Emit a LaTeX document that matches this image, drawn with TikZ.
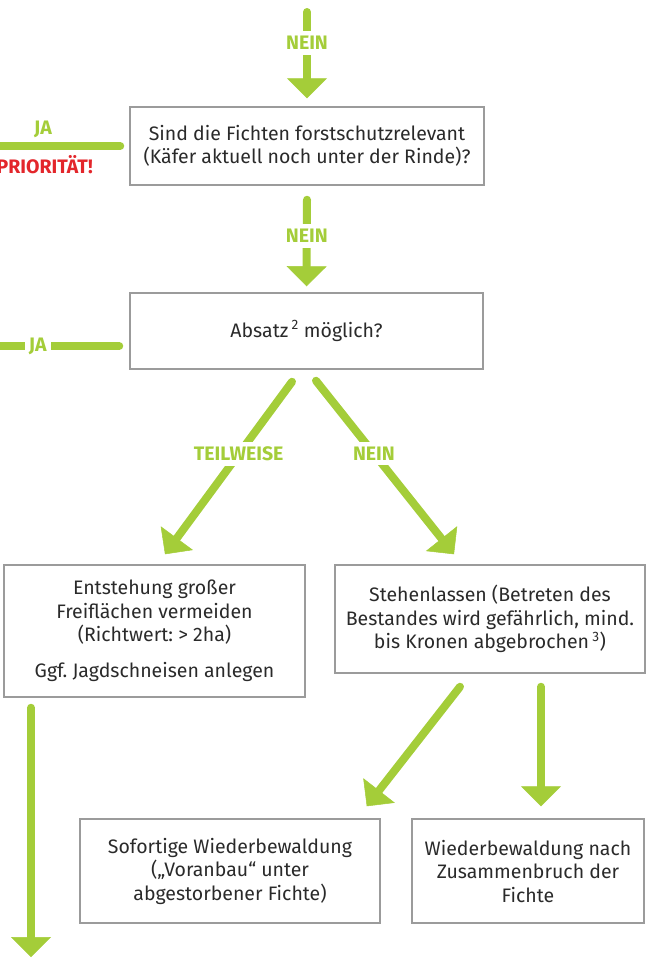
\documentclass[tikz,border=0pt]{standalone}
\usepackage{fontspec}
\setmainfont{Fira Sans}
\usetikzlibrary{arrows.meta,calc}
\definecolor{grn}{HTML}{A4CD39}
\definecolor{rd}{HTML}{E3262B}
\definecolor{txt}{HTML}{2A2A2A}
\definecolor{brd}{HTML}{9B9B9B}
\frenchspacing
\begin{document}
\begin{tikzpicture}[x=1pt,y=-1pt,
  box/.style={draw=brd, line width=1.5pt, align=center, text=txt,
    font=\fontsize{19.5}{23.5}\selectfont, inner sep=0pt},
  ln/.style={draw=grn, line width=8pt, line cap=round},
  arr/.style={ln, -{Triangle[length=20pt,width=40pt,line width=0.5pt]}},
  lab/.style={fill=white, text=grn, font=\bfseries\fontsize{19.5}{19.5}\selectfont,
    inner xsep=4pt, inner ysep=5pt},
  plainlab/.style={font=\bfseries\fontsize{19.5}{19.5}\selectfont, inner sep=0pt}
]
\useasboundingbox (0,0) rectangle (646,959);
\clip (0,0) rectangle (646,959);

% boxes
\node[box, minimum width=354pt, minimum height=78pt] (b1) at (307,146)
  {Sind die Fichten forstschutzrelevant\\(Käfer aktuell noch unter der Rinde)?};
\node[box, minimum width=353pt, minimum height=76pt] (b2) at (306.5,331)
  {Absatz\,\textsuperscript{2} möglich?};
\node[box, minimum width=301pt, minimum height=132pt] (b3) at (154.5,631)
  {Entstehung großer\\Freiflächen vermeiden\\(Richtwert: > 2ha)\\[12pt]Ggf. Jagdschneisen anlegen};
\node[box, minimum width=310pt, minimum height=108pt] (b4) at (490,619)
  {Stehenlassen (Betreten des\\Bestandes wird gefährlich, mind.\\bis Kronen abgebrochen\,\textsuperscript{3})};
\node[box, minimum width=300pt, minimum height=104pt] (b5) at (230,871)
  {Sofortige Wiederbewaldung\\(„Voranbau“ unter\\abgestorbener Fichte)};
\node[box, minimum width=232pt, minimum height=104pt] (b6) at (528,871)
  {Wiederbewaldung nach\\Zusammenbruch der\\Fichte};

% free ends
\coordinate (top) at (307,12);
\coordinate (jaA) at (-10,146);
\coordinate (jaB) at (-10,346);
\coordinate (bottom) at (31,957);

% connectors
\draw[arr] (top) -- node[lab, pos=0.36] {NEIN} ([yshift=8pt]b1.north);
\draw[arr] ([yshift=-14pt]b1.south) -- node[lab, pos=0.42] {NEIN} ([yshift=6pt]b2.north);
\draw[ln] (jaA) -- ([xshift=-9pt]b1.west);
\node[plainlab, text=grn] (jaAlab) at (43,129) {JA};
\node[plainlab, text=rd, anchor=east] (prio) at (93,165) {PRIORITÄT!};
\draw[ln] (jaB) -- node[lab, pos=0.37] {JA} ([xshift=-10pt,yshift=-15pt]b2.west);
\draw[arr] ([xshift=-14.5pt,yshift=-12pt]b2.south) -- node[lab, pos=0.42] {TEILWEISE} ([xshift=10.5pt,yshift=10pt]b3.north);
\draw[arr] ([xshift=9.5pt,yshift=-11pt]b2.south) -- node[lab, pos=0.42] {NEIN} ([xshift=-36pt,yshift=10pt]b4.north);
\draw[arr] ([xshift=-30pt,yshift=-13pt]b4.south) -- ([xshift=-14pt,yshift=12pt]b5.north east);
\draw[arr] ([xshift=51pt,yshift=-13pt]b4.south) -- ([xshift=13pt,yshift=12pt]b6.north);
\draw[arr] ([xshift=-123.5pt,yshift=-10pt]b3.south) -- (bottom);
\end{tikzpicture}
\end{document}
